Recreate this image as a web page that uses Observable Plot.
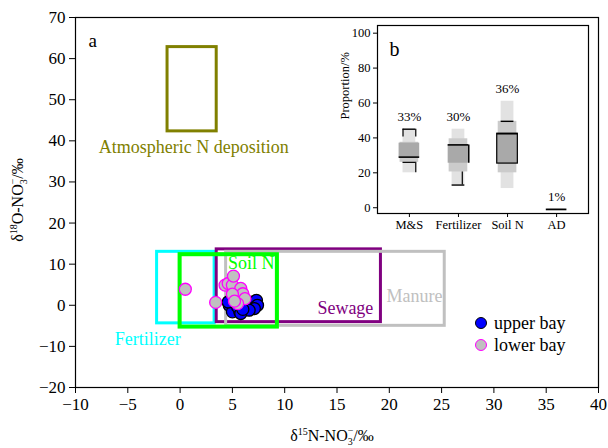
<!DOCTYPE html>
<html><head><meta charset="utf-8">
<script src="https://cdn.jsdelivr.net/npm/d3@7"></script>
<script src="https://cdn.jsdelivr.net/npm/@observablehq/plot@0.6"></script>
<style>
body{margin:0;background:#fff;}
#wrap{position:relative;width:608px;height:448px;font-family:"Liberation Serif",serif;}
#wrap svg{position:absolute;left:0;top:0;}
.leg{position:absolute;font-size:18px;line-height:18px;color:#000;display:flex;align-items:center;}
.leg span.dot{display:inline-block;width:10px;height:10px;border-radius:50%;margin-right:7px;}
</style></head><body><div id="wrap"></div>
<script>
// ---- panel a data ----
const sourceNames = ["Atmospheric N deposition","Fertilizer","Soil N","Sewage","Manure"];
const sourceColors = ["#808000","#00ffff","#00ff00","#800080","#c0c0c0"];
const sourceX1 = [-1.2,-2.2,0.0,3.5,4.4];
const sourceX2 = [3.5,3.3,9.3,19.2,25.3];
const sourceY1 = [42.3,-4.4,-5.3,-4.1,-5.0];
const sourceY2 = [62.8,13.0,12.3,13.6,13.0];
const labelX = [1.3,-3.1,6.8,15.8,22.4];
const labelY = [38.4,-8.3,10.2,-0.7,2.2];

const upperX = [4.7,5.0,5.7,6.2,6.5,7.0,7.3,7.4,7.1,6.6,5.5,5.8,4.6,6.0];
const upperY = [0.0,-1.6,-1.6,-0.4,0.4,0.8,1.2,0.0,-0.8,-1.2,-0.4,-2.0,0.8,-1.0];
const lowerX = [0.5,3.4,4.3,4.6,5.0,5.1,5.8,6.0,5.0,6.2,5.5,5.2];
const lowerY = [3.9,0.7,4.9,5.3,4.9,7.1,4.1,2.8,2.7,1.6,0.4,1.0];

const xTicks = [-10,-5,0,5,10,15,20,25,30,35,40];
const yTicks = [-20,-10,0,10,20,30,40,50,60,70];

// ---- panel b data ----
const categories = ["M&S","Fertilizer","Soil N","AD"];
const pctLabels = ["33%","30%","36%","1%"];
const lo95 = [20,13,11,-1];
const hi95 = [45,45,61,-0.4];
const lo75 = [26,20.5,20,-1];
const hi75 = [37.5,39.5,49.5,-0.6];
const lo50 = [29,25.5,25.3,-1];
const hi50 = [37,36,42.4,-0.7];
const modeLine = [29,36,42.4,-1];
const capLine = [45,13,49.5,null];
const bTicks = [0,20,40,60,80,100];

// build tables
const sources = sourceNames.map((n,i)=>({name:n,color:sourceColors[i],x1:sourceX1[i],x2:sourceX2[i],y1:sourceY1[i],y2:sourceY2[i],lx:labelX[i],ly:labelY[i]}));
const upper = upperX.map((x,i)=>({x,y:upperY[i]}));
const lower = lowerX.map((x,i)=>({x,y:lowerY[i]}));
const boxes = categories.map((c,i)=>({c,i:i+1,pct:pctLabels[i],lo95:lo95[i],hi95:hi95[i],lo75:lo75[i],hi75:hi75[i],lo50:lo50[i],hi50:hi50[i],mode:modeLine[i],cap:capLine[i]}));
const hw = {95:0.13,75:0.19,50:0.21};

const font = "Liberation Serif, Times New Roman, serif";

const main = Plot.plot({
  width:608, height:448,
  marginLeft:75, marginRight:10, marginTop:17, marginBottom:61,
  x:{domain:[-10,40]}, y:{domain:[-20,70]},
  color:{type:"identity"},
  style:{fontFamily:font, fontSize:"17px", color:"#000", background:"transparent"},
  marks:[
    Plot.rect(sources,{x1:"x1",x2:"x2",y1:"y1",y2:"y2",stroke:"color",fill:"none",strokeWidth:3}),
    Plot.rect(sources.filter(d=>d.name==="Soil N"),{x1:"x1",x2:"x2",y1:"y1",y2:"y2",stroke:"color",fill:"none",strokeWidth:4}),
    Plot.dot(upper,{x:"x",y:"y",r:6,fill:"#0000ff",stroke:"#000",strokeWidth:1.3}),
    Plot.dot(lower,{x:"x",y:"y",r:6,fill:"#c0c0c0",stroke:"#ff00ff",strokeWidth:1.3}),
    Plot.text(sources,{x:"lx",y:"ly",text:"name",fill:"color",fontSize:18}),
    Plot.frame({stroke:"#000",strokeWidth:1.2}),
    Plot.axisX({ticks:xTicks,tickSize:6,tickPadding:4,label:null,fontSize:17}),
    Plot.axisY({ticks:yTicks,tickSize:6,tickPadding:4,label:null,fontSize:17}),
    Plot.text(["a"],{frameAnchor:"top-left",dx:13,dy:16,textAnchor:"start",fontSize:19})
  ]
});

const inset = Plot.plot({
  width:608, height:448,
  marginLeft:377, marginRight:20, marginTop:25, marginBottom:235,
  x:{domain:[0.35,4.65]}, y:{domain:[-3.3,104.4]},
  style:{fontFamily:font, fontSize:"12.5px", color:"#000", background:"transparent"},
  marks:[
    Plot.frame({fill:"#fff",stroke:"none"}),
    Plot.rect(boxes,{x1:d=>d.i-hw[95],x2:d=>d.i+hw[95],y1:"lo95",y2:"hi95",fill:"#e2e2e2"}),
    Plot.rect(boxes,{x1:d=>d.i-hw[75],x2:d=>d.i+hw[75],y1:"lo75",y2:"hi75",fill:"#cbcbcb"}),
    Plot.rect(boxes,{x1:d=>d.i-hw[50],x2:d=>d.i+hw[50],y1:"lo50",y2:"hi50",fill:"#a9a9a9"}),
    Plot.rect(boxes.filter(d=>d.c==="Soil N"),{x1:d=>d.i-hw[50],x2:d=>d.i+hw[50],y1:"lo50",y2:"hi50",fill:"none",stroke:"#000",strokeWidth:1.2}),
    Plot.ruleX(boxes.filter(d=>d.c==="Fertilizer"),{x:d=>d.i+hw[50],y1:"lo50",y2:"hi50",stroke:"#000",strokeWidth:1.5}),
    Plot.ruleX(boxes.filter(d=>d.c==="Fertilizer"),{x:d=>d.i+hw[95]*0.6,y1:"lo95",y2:"lo75",stroke:"#000",strokeWidth:1.2}),
    Plot.ruleX(boxes.filter(d=>d.c==="M&S"),{x:d=>d.i+hw[95],y1:"lo95",y2:d=>d.lo75,stroke:"#000",strokeWidth:1.2}),
    Plot.ruleX(boxes.filter(d=>d.c==="M&S"),{x:d=>d.i-hw[95],y1:d=>d.hi95-4.5,y2:"hi95",stroke:"#000",strokeWidth:1.2}),
    Plot.ruleX(boxes.filter(d=>d.c==="M&S"),{x:d=>d.i+hw[95],y1:d=>d.hi95-4.5,y2:"hi95",stroke:"#000",strokeWidth:1.2}),
    Plot.ruleY(boxes,{y:"mode",x1:d=>d.i-hw[50],x2:d=>d.i+hw[50],stroke:"#000",strokeWidth:1.6}),
    Plot.ruleY(boxes.filter(d=>d.cap!=null),{y:"cap",x1:d=>d.i-hw[95],x2:d=>d.i+hw[95],stroke:"#000",strokeWidth:1.4}),
    Plot.ruleY(boxes.filter(d=>d.c==="M&S"),{y:"lo75",x1:d=>d.i-hw[95],x2:d=>d.i+hw[95],stroke:"#000",strokeWidth:1.2}),
    Plot.text(boxes,{x:"i",y:"hi95",text:"pct",dy:-12,fontSize:13}),
    Plot.frame({stroke:"#000",strokeWidth:1.2}),
    Plot.axisX({ticks:[1,2,3,4],tickFormat:i=>categories[i-1],tickSize:4,tickPadding:3,label:null,fontSize:12.5}),
    Plot.axisY({ticks:bTicks,tickSize:4,tickPadding:3,label:null,fontSize:12.5}),
    Plot.text(["Proportion/%"],{frameAnchor:"left",rotate:-90,dx:-33,fontSize:12.5}),
    Plot.text(["b"],{frameAnchor:"top-left",dx:12,dy:16,textAnchor:"start",fontSize:20})
  ]
});

const wrap = document.getElementById("wrap");
wrap.appendChild(main);
wrap.appendChild(inset);

// axis titles with sub/superscripts
const s = d3.select(main);
const yl = s.append("text").attr("transform","translate(23,200) rotate(-90)").attr("text-anchor","middle")
  .attr("font-family",font).attr("font-size",16).attr("fill","#000");
yl.append("tspan").text("δ");
yl.append("tspan").attr("dy",-6).attr("font-size",10).text("18");
yl.append("tspan").attr("dy",6).text("O-NO");
yl.append("tspan").attr("dy",4).attr("font-size",10).text("3");
yl.append("tspan").attr("dx",-5).attr("dy",-11).attr("font-size",10).text("−");
yl.append("tspan").attr("dy",7).text("/‰");

const xl = s.append("text").attr("x",332).attr("y",441).attr("text-anchor","middle")
  .attr("font-family",font).attr("font-size",16).attr("fill","#000");
xl.append("tspan").text("δ");
xl.append("tspan").attr("dy",-6).attr("font-size",10).text("15");
xl.append("tspan").attr("dy",6).text("N-NO");
xl.append("tspan").attr("dy",4).attr("font-size",10).text("3");
xl.append("tspan").attr("dx",-5).attr("dy",-11).attr("font-size",10).text("−");
xl.append("tspan").attr("dy",7).text("/‰");

// legend
const legItems = [{label:"upper bay",fill:"#0000ff",stroke:"#000"},{label:"lower bay",fill:"#c0c0c0",stroke:"#ff00ff"}];
legItems.forEach((d,k)=>{
  const el = document.createElement("div");
  el.className="leg";
  el.style.left="475px"; el.style.top=(314+k*22)+"px";
  el.innerHTML=`<span class="dot" style="background:${d.fill};border:1.3px solid ${d.stroke}"></span>${d.label}`;
  wrap.appendChild(el);
});
</script></body></html>
